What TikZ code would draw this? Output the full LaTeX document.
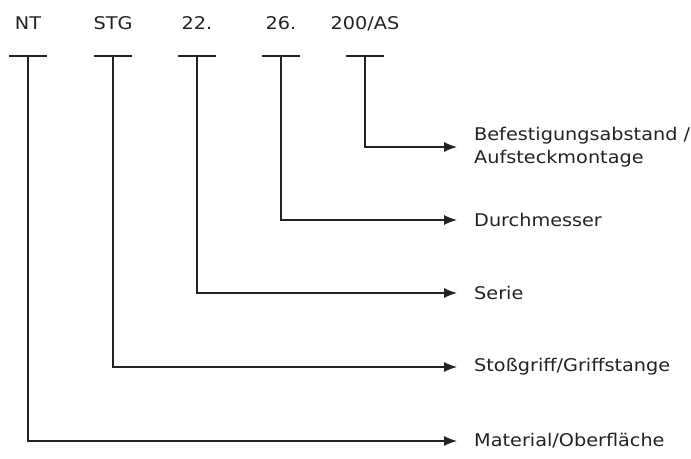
\documentclass[tikz,border=0pt]{standalone}
\usepackage{fontspec}
\setmainfont[FakeStretch=1.1]{DejaVu Sans}
\usetikzlibrary{arrows.meta,positioning}
\definecolor{CodeGrey}{HTML}{222222}

\begin{document}
\begin{tikzpicture}[x=1pt,y=-1pt, node distance=17pt,
    every node/.style={font=\fontsize{17.5}{23}\selectfont,text=CodeGrey,inner sep=0pt,align=left},
    tick/.style={line width=1.3pt,CodeGrey},
    lead/.style={-{Latex[length=13pt,width=10pt]},line width=1.3pt,CodeGrey}]
    \useasboundingbox (0,0) rectangle (691,458);
    % code parts
    \node[anchor=base] (nt) at (28,29) {NT};
    \node[anchor=base] (stg) at (113,29) {STG};
    \node[anchor=base] (ser) at (197,29) {22.};
    \node[anchor=base] (dm) at (281,29) {26.};
    \node[anchor=base] (as) at (365,29) {200/AS};
    % ticks below the code parts
    \coordinate (nt-t) at (28,56);
    \coordinate (stg-t) at (113,56);
    \coordinate (ser-t) at (197,56);
    \coordinate (dm-t) at (281,56);
    \coordinate (as-t) at (365,56);
    \draw[tick] ([xshift=-19pt]nt-t) -- ([xshift=19pt]nt-t);
    \draw[tick] ([xshift=-19pt]stg-t) -- ([xshift=19pt]stg-t);
    \draw[tick] ([xshift=-19pt]ser-t) -- ([xshift=19pt]ser-t);
    \draw[tick] ([xshift=-19pt]dm-t) -- ([xshift=19pt]dm-t);
    \draw[tick] ([xshift=-19pt]as-t) -- ([xshift=19pt]as-t);
    % arrow ends and meanings
    \coordinate (as-e) at (457,147);
    \coordinate (dm-e) at (457,220);
    \coordinate (ser-e) at (457,293);
    \coordinate (stg-e) at (457,367);
    \coordinate (nt-e) at (457,441);
    \node[right=of as-e] (as-l) {Befestigungsabstand /\\Aufsteckmontage};
    \node[right=of dm-e] (dm-l) {Durchmesser};
    \node[right=of ser-e] (ser-l) {Serie};
    \node[right=of stg-e] (stg-l) {Stoßgriff/Griffstange};
    \node[right=of nt-e] (nt-l) {Material/Oberfläche};
    \draw[lead] (as-t) |- (as-e);
    \draw[lead] (dm-t) |- (dm-e);
    \draw[lead] (ser-t) |- (ser-e);
    \draw[lead] (stg-t) |- (stg-e);
    \draw[lead] (nt-t) |- (nt-e);
\end{tikzpicture}
\end{document}
